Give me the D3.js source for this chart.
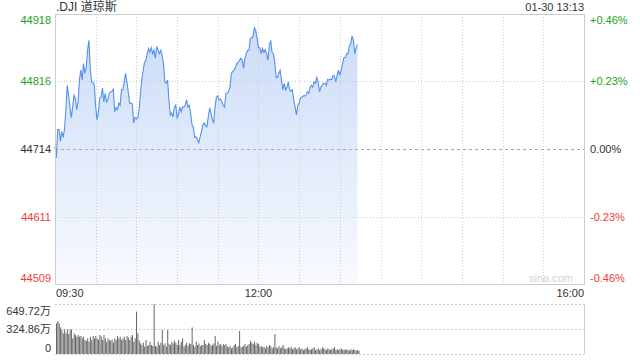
<!DOCTYPE html>
<html lang="zh">
<head>
<meta charset="utf-8">
<title>.DJI 道琼斯</title>
<script src="https://d3js.org/d3.v7.min.js"></script>
<style>
body { margin: 0; background: #fff; font-family: "Liberation Sans", Arial, "Noto Sans CJK SC", sans-serif; font-size: 11px; color: #333; }
.grid { stroke: #ccc; stroke-dasharray: 1,2; shape-rendering: crispEdges; }
.frame { stroke: #ccc; fill: none; shape-rendering: crispEdges; }
</style>
</head>
<body>
<svg width="640" height="360"></svg>
<script>
// minutes after 09:30, one price per minute up to 13:13
var prices = [
  44717,44700,44743,44743,44725,44740,44731,44743,44773,44810,
  44795,44777,44761,44777,44795,44791,44773,44785,44818,44833,
  44818,44843,44828,44837,44863,44878,44837,44815,44815,44810,
  44777,44758,44770,44791,44792,44806,44785,44798,44785,44788,
  44798,44800,44801,44804,44770,44776,44773,44783,44780,44803,
  44803,44815,44828,44815,44800,44783,44783,44782,44753,44761,
  44759,44761,44773,44798,44818,44833,44845,44848,44858,44866,
  44860,44867,44858,44863,44851,
  44869,44863,44858,44863,44855,44843,44815,44813,44818,44788,
  44765,44768,44762,44777,44780,44761,44765,44777,44770,44777,
  44777,44780,44788,44777,44780,44768,44750,44747,44731,44732,
  44728,44723,44732,44740,44750,44753,44749,44747,44762,44776,
  44768,44758,44753,44777,44792,44794,44788,44789,44785,44779,
  44777,44798,44798,44801,44807,44828,44831,44833,44837,44843,
  44845,44848,44851,44848,44836,44851,44858,44863,44863,44881,
  44882,44884,44897,44893,44881,44867,
  44867,44858,44866,44860,44864,44858,44848,44870,44878,44860,
  44858,44845,44822,44822,44828,44833,44818,44803,44813,44803,
  44807,44815,44803,44801,44803,44788,44777,44765,44780,44783,
  44791,44792,44794,44794,44795,44800,44798,44806,44810,44807,
  44815,44813,44822,44815,44800,44807,44810,44813,44813,44810,
  44819,44818,44819,44819,44825,44824,44815,44825,44833,44825,
  44833,44843,44852,44852,44858,44858,44870,44873,44885,44878,
  44858,44867,44872
];

// volume per minute, in 万
var volumes = [
  399,429,399,346,320,268,320,268,320,260,
  320,320,203,268,247,225,247,225,234,203,
  225,182,173,203,160,225,182,234,203,234,
  203,182,247,225,182,247,203,160,203,182,
  173,190,147,203,182,234,203,225,182,203,
  225,182,234,212,182,225,247,160,203,550,
  268,173,138,117,147,95,182,104,117,160,
  117,104,646,104,95,160,117,147,312,117,
  138,95,312,130,117,160,138,173,147,117,
  182,117,160,203,95,117,147,104,138,130,
  346,117,95,160,117,138,104,117,
  117,182,130,117,147,130,104,117,138,234,
  104,160,117,130,104,130,117,130,95,87,
  104,74,87,117,130,87,104,299,87,95,
  104,130,95,117,130,173,147,130,160,117,
  147,130,95,104,87,95,74,104,87,117,
  104,74,87,260,87,74,104,74,87,117,
  74,61,74,87,74,95,61,74,87,61,
  74,87,61,74,52,61,74,87,61,52,
  61,74,87,52,61,74,52,61,87,74,
  61,52,74,61,52,61,74,87,52,61,
  52,61,74,52,61,52,61,52,43,61,
  52,61,52,43,52,43
];

var priceTicks = [44918, 44816, 44714, 44611, 44509];
var pctLabels = ["+0.46%", "+0.23%", "0.00%", "-0.23%", "-0.46%"];
var volTicks = [649.72, 324.86, 0];
var volLabels = ["649.72万", "324.86万", "0"];
var timeTicks = [0, 150, 390];
var timeLabels = ["09:30", "12:00", "16:00"];
var preClose = 44714;

var svg = d3.select("svg");
var mLeft = 55, mRight = 584, mTop = 14, mBottom = 284;
var vTop = 304, vBottom = 354;

var x = d3.scaleLinear().domain([0, 390]).range([mLeft, mRight]);
var y = d3.scaleLinear().domain([44509, 44918]).range([mBottom, mTop]);
var yv = d3.scaleLinear().domain([0, 649.72]).range([vBottom, vTop]);

var upColor = "#21a121", downColor = "#f23a3a", flatColor = "#333";
function tickColor(v) { return v > preClose ? upColor : (v < preClose ? downColor : flatColor); }

var defs = svg.append("defs");
var grad = defs.append("linearGradient").attr("id", "fill").attr("x1", 0).attr("y1", 0).attr("x2", 0).attr("y2", 1);
grad.append("stop").attr("offset", "0%").attr("stop-color", "#cbdcf7");
grad.append("stop").attr("offset", "100%").attr("stop-color", "#f8fafe");

// area + line
var area = d3.area()
    .x(function(d, i) { return x(i); })
    .y0(mBottom)
    .y1(function(d) { return y(d); });
var line = d3.line()
    .x(function(d, i) { return x(i); })
    .y(function(d) { return y(d); });

svg.append("path").datum(prices).attr("d", area).attr("fill", "url(#fill)");

// vertical grid every half hour
var half = d3.range(30, 390, 30);
svg.append("g").selectAll("line").data(half).join("line")
    .attr("class", "grid")
    .attr("x1", function(d) { return Math.round(x(d)) + 0.5; })
    .attr("x2", function(d) { return Math.round(x(d)) + 0.5; })
    .attr("y1", mTop).attr("y2", mBottom);

// horizontal grid
svg.append("g").selectAll("line").data(priceTicks.slice(1, 4)).join("line")
    .attr("class", "grid")
    .attr("x1", mLeft).attr("x2", mRight)
    .attr("y1", function(d) { return Math.round(y(d)) + 0.5; })
    .attr("y2", function(d) { return Math.round(y(d)) + 0.5; })
    .style("stroke", function(d) { return d === preClose ? "#aaa" : "#ccc"; })
    .style("stroke-dasharray", function(d) { return d === preClose ? "3,3" : "1,2"; });

svg.append("path").datum(prices).attr("d", line)
    .attr("fill", "none").attr("stroke", "#5590ee").attr("stroke-width", 1.1);

// frame
svg.append("path").attr("class", "frame")
    .attr("d", "M" + (mLeft + 0.5) + "," + mBottom + "V" + (mTop + 0.5) + "H" + (mRight + 0.5) + "V" + (mBottom + 0.5) + "H" + mLeft);

// watermark
svg.append("text").attr("x", mRight - 11).attr("y", mBottom - 2)
    .attr("text-anchor", "end").attr("fill", "#d0d0d0").style("font-size", "11px")
    .text("sina.com");

// price labels
svg.append("g").selectAll("text").data(priceTicks).join("text")
    .attr("x", mLeft - 4)
    .attr("y", function(d, i) { return y(d) + (i === 0 ? 10 : (i === 4 ? -2 : 4)); })
    .attr("text-anchor", "end")
    .attr("fill", tickColor)
    .text(function(d) { return d; });

svg.append("g").selectAll("text").data(priceTicks).join("text")
    .attr("x", mRight + 6)
    .attr("y", function(d, i) { return y(d) + (i === 0 ? 10 : (i === 4 ? -2 : 4)); })
    .attr("fill", tickColor)
    .text(function(d, i) { return pctLabels[i]; });

// time labels
svg.append("g").selectAll("text").data(timeTicks).join("text")
    .attr("x", function(d, i) { return x(d) + (i === 0 ? 1 : 0); })
    .attr("y", mBottom + 13)
    .attr("text-anchor", function(d, i) { return i === 0 ? "start" : (i === 2 ? "end" : "middle"); })
    .attr("fill", "#333")
    .text(function(d, i) { return timeLabels[i]; });

// volume grid
svg.append("g").selectAll("line").data(volTicks).join("line")
    .attr("class", "grid")
    .attr("x1", mLeft).attr("x2", mRight)
    .attr("y1", function(d) { return Math.round(yv(d)) + 0.5; })
    .attr("y2", function(d) { return Math.round(yv(d)) + 0.5; })
    .style("stroke-dasharray", "2,2");
svg.append("line").attr("class", "frame")
    .attr("x1", mRight + 0.5).attr("x2", mRight + 0.5).attr("y1", vTop).attr("y2", vBottom);

// volume bars
svg.append("g").selectAll("rect").data(volumes).join("rect")
    .attr("x", function(d, i) { return x(i) + 1; })
    .attr("width", 1)
    .attr("y", function(d) { return yv(d); })
    .attr("height", function(d) { return vBottom - yv(d); })
    .attr("fill", "#666");

svg.append("g").selectAll("text").data(volTicks).join("text")
    .attr("x", mLeft - 4)
    .attr("y", function(d, i) { return yv(d) + (i === 0 ? 11 : (i === 2 ? -2 : 4)); })
    .attr("text-anchor", "end")
    .attr("fill", "#333")
    .text(function(d, i) { return volLabels[i]; });

// header
svg.append("text").attr("x", mLeft + 1).attr("y", 11).attr("fill", "#333").style("font-size", "12px").text(".DJI 道琼斯");
svg.append("text").attr("x", mRight).attr("y", 11).attr("text-anchor", "end").attr("fill", "#333").text("01-30 13:13");
</script>
</body>
</html>
